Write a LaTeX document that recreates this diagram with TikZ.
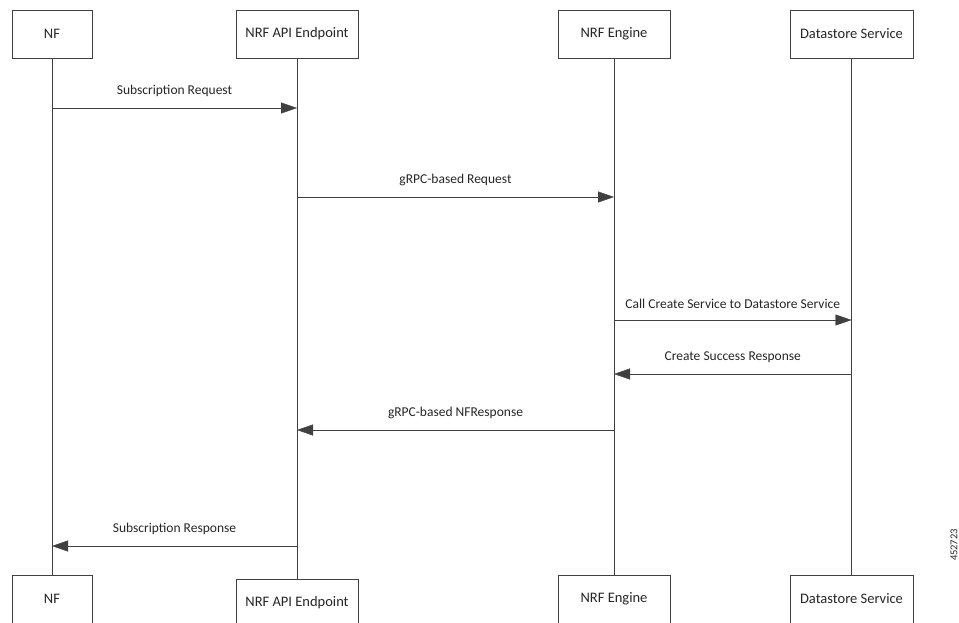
\documentclass[tikz,border=0pt]{standalone}
\usepackage{fontspec}
\setmainfont{Carlito}
\usepackage{tikz}
\usetikzlibrary{arrows.meta,calc,positioning}

\definecolor{linegray}{HTML}{404040}
\definecolor{txtgray}{HTML}{262626}

\begin{document}
\begin{tikzpicture}[x=1pt,y=-1pt,>={Triangle[length=16pt,width=11pt]},
    actor/.style={draw=linegray,fill=white,minimum height=48pt,inner sep=0pt,
      text=txtgray,font=\fontsize{14.5}{16}\selectfont},
    msg/.style={->,draw=linegray},
    lbl/.style={above=7.5pt,text=txtgray,font=\fontsize{13.5}{15}\selectfont}]
    \useasboundingbox (0,0) rectangle (959,622);

    % participants, top row
    \node[actor,minimum width=80pt]  (nfT)  at (52,34)    {NF};
    \node[actor,minimum width=122pt] (apiT) at (297,34)   {NRF API Endpoint};
    \node[actor,minimum width=112pt] (engT) at (614,34)   {NRF Engine};
    \node[actor,minimum width=123pt] (dsT)  at (851.5,34) {Datastore Service};

    % participants, bottom row
    \node[actor,minimum width=80pt]  (nfB)  at (52,599)    {NF};
    \node[actor,minimum width=122pt] (apiB) at (297,603)   {NRF API Endpoint};
    \node[actor,minimum width=112pt] (engB) at (614,599)   {NRF Engine};
    \node[actor,minimum width=123pt] (dsB)  at (851.5,599) {Datastore Service};

    % lifelines
    \foreach \p in {nf,api,eng,ds}
      \draw[linegray] (\p T.south) -- (\p B.north);

    % messages
    \foreach \y/\src/\dst/\txt in {108/nfT/apiT/Subscription Request,
        197/apiT/engT/gRPC-based Request,
        320/engT/dsT/Call Create Service to Datastore Service,
        374/dsT/engT/Create Success Response,
        430/engT/apiT/gRPC-based NFResponse,
        546/apiT/nfT/Subscription Response}
      \draw[msg] (\src |- 0,\y) -- (\dst |- 0,\y) node[midway,lbl] {\txt};

    \node[rotate=90,text=txtgray,font=\fontsize{10.5}{12}\selectfont] (figid) at (954,545) {452723};
  \end{tikzpicture}
\end{document}
